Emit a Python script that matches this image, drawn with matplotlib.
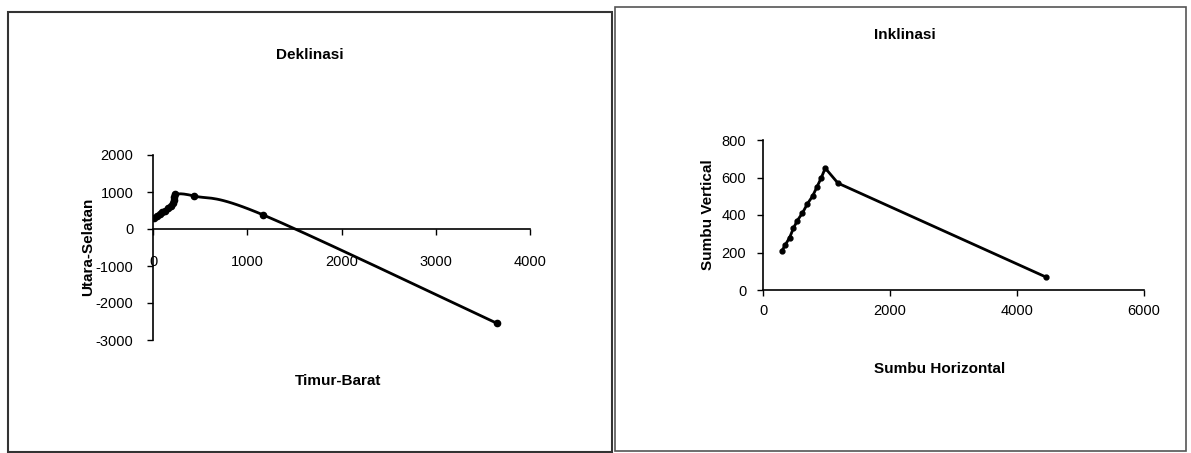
import numpy as np
import matplotlib.pyplot as plt
from matplotlib.patches import Rectangle

plt.rcParams['font.family'] = ['Liberation Sans', 'DejaVu Sans']
plt.rcParams['axes.unicode_minus'] = False

# Deklinasi data (Timur-Barat vs Utara-Selatan)
dek_x = [10, 40, 70, 100, 130, 160, 190, 210, 220, 225, 230, 440, 1170, 3650]
dek_y = [300, 350, 400, 450, 500, 560, 620, 700, 780, 860, 940, 890, 380, -2550]

# Inklinasi data (Sumbu Horizontal vs Sumbu Vertical)
ink_x = [300, 350, 420, 480, 540, 620, 700, 780, 850, 920, 980, 1180, 4450]
ink_y = [210, 240, 280, 330, 370, 410, 460, 500, 550, 600, 650, 570, 70]


def smooth(x, y, n=20):
    # catmull-rom style smoothing, like excel's smoothed line
    x = np.asarray(x, float)
    y = np.asarray(y, float)
    px = np.concatenate([[x[0]], x, [x[-1]]])
    py = np.concatenate([[y[0]], y, [y[-1]]])
    xs, ys = [], []
    t = np.linspace(0, 1, n)
    for i in range(1, len(px) - 2):
        p0, p1, p2, p3 = px[i-1], px[i], px[i+1], px[i+2]
        q0, q1, q2, q3 = py[i-1], py[i], py[i+1], py[i+2]
        c1x, c1y = p1 + (p2 - p0) / 6, q1 + (q2 - q0) / 6
        c2x, c2y = p2 - (p3 - p1) / 6, q2 - (q3 - q1) / 6
        bx = (1-t)**3*p1 + 3*(1-t)**2*t*c1x + 3*(1-t)*t**2*c2x + t**3*p2
        by = (1-t)**3*q1 + 3*(1-t)**2*t*c1y + 3*(1-t)*t**2*c2y + t**3*q2
        xs.extend(bx)
        ys.extend(by)
    return xs, ys


W, H = 1191, 453
fig = plt.figure(figsize=(W / 100, H / 100), dpi=100)

# panel frames
fig.patches.append(Rectangle((8/W, 1 - 452/H), 604/W, 440/H,
                             transform=fig.transFigure, fill=False,
                             edgecolor='#333333', lw=1.5))
fig.patches.append(Rectangle((615/W, 1 - 451/H), 571/W, 444/H,
                             transform=fig.transFigure, fill=False,
                             edgecolor='#555555', lw=1.2))

ax1 = fig.add_axes([153/W, 1 - 340/H, 377/W, 185/H])
sx, sy = smooth(dek_x, dek_y)
ax1.plot(sx, sy, 'k-', lw=2)
ax1.plot(dek_x, dek_y, 'ko', ms=4.5)
ax1.set_xlim(0, 4000)
ax1.set_ylim(-3000, 2000)
ax1.set_xticks([0, 1000, 2000, 3000, 4000])
ax1.set_yticks([-3000, -2000, -1000, 0, 1000, 2000])
ax1.spines['bottom'].set_position(('data', 0))
ax1.tick_params(axis='x', pad=15)
ax1.tick_params(axis='y', pad=10)

ax2 = fig.add_axes([763/W, 1 - 290/H, 381/W, 150/H])
ax2.plot(ink_x, ink_y, 'k-', lw=2)
ax2.plot(ink_x, ink_y, 'ko', ms=3.5)
ax2.set_xlim(0, 6000)
ax2.set_ylim(0, 800)
ax2.set_xticks([0, 2000, 4000, 6000])
ax2.set_yticks([0, 200, 400, 600, 800])
ax2.tick_params(axis='x', pad=6)
ax2.tick_params(axis='y', pad=8)

for ax in (ax1, ax2):
    ax.spines['top'].set_visible(False)
    ax.spines['right'].set_visible(False)
    ax.tick_params(direction='out', length=4, width=1, labelsize=10.5)
    for s in ('left', 'bottom'):
        ax.spines[s].set_linewidth(1.2)
    ax.set_facecolor('none')

fig.text(310/W, 1 - 55/H, 'Deklinasi', ha='center', va='center',
         fontsize=11, fontweight='bold')
fig.text(338/W, 1 - 381/H, 'Timur-Barat', ha='center', va='center',
         fontsize=11, fontweight='bold')
fig.text(88/W, 1 - 247/H, 'Utara-Selatan', ha='center', va='center',
         fontsize=11, fontweight='bold', rotation=90)

fig.text(905/W, 1 - 35/H, 'Inklinasi', ha='center', va='center',
         fontsize=11, fontweight='bold')
fig.text(940/W, 1 - 369/H, 'Sumbu Horizontal', ha='center', va='center',
         fontsize=11, fontweight='bold')
fig.text(708/W, 1 - 215/H, 'Sumbu Vertical', ha='center', va='center',
         fontsize=11, fontweight='bold', rotation=90)

fig.savefig('out.png', dpi=100)
